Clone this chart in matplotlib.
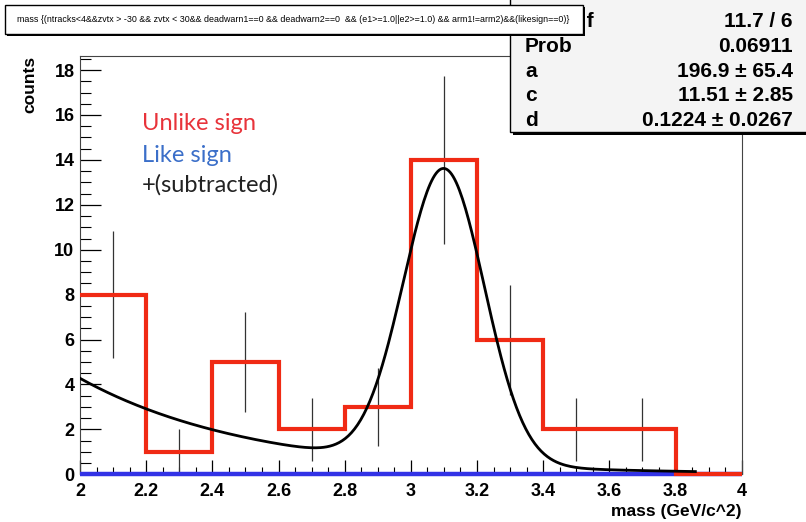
import numpy as np
import matplotlib
matplotlib.use('Agg')
import matplotlib.pyplot as plt
from matplotlib.patches import Rectangle
from matplotlib.ticker import MultipleLocator

# histogram bins (mass, GeV/c^2)
bin_edges = [2.0, 2.2, 2.4, 2.6, 2.8, 3.0, 3.2, 3.4, 3.6, 3.8, 4.0]
unlike_counts = [8, 1, 5, 2, 3, 14, 6, 2, 2, 0]
like_counts = [0, 0, 0, 0, 0, 0, 0, 0, 0, 0]
sub_counts = [8, 1, 5, 2, 3, 14, 6, 2, 2, 0]
sub_errors = [2.83, 1.0, 2.24, 1.41, 1.73, 3.74, 2.45, 1.41, 1.41, 0.0]

# fit result (background exp + gaussian peak)
fit_a = 196.9
fit_slope = 1.915
fit_peak = 13.1
fit_mean = 3.1
fit_d = 0.1224
fit_range = (2.0, 3.86)

stat_labels = ['\u03c7\u00b2 / ndf', 'Prob', 'a', 'c', 'd']
stat_values = ['11.7 / 6', '0.06911', '196.9 \u00b1 65.4', '11.51 \u00b1 2.85', '0.1224 \u00b1 0.0267']

title = ('mass {(ntracks<4&&zvtx > -30 && zvtx < 30&& deadwarn1==0 && deadwarn2==0  '
         '&& (e1>=1.0||e2>=1.0) && arm1!=arm2)&&(likesign==0)}')

W, H = 806, 522
fig = plt.figure(figsize=(W / 100, H / 100), dpi=100)

def px(x, y):
  return x / W, 1 - y / H

ax = fig.add_axes([80 / W, 1 - 474.3 / H, (741.7 - 80) / W, (474.3 - 55.7) / H])

centers = [(bin_edges[i] + bin_edges[i + 1]) / 2 for i in range(len(unlike_counts))]

ax.errorbar(centers, sub_counts, yerr=sub_errors, fmt='none', ecolor='#333333', elinewidth=0.9, zorder=2)
ax.stairs(like_counts, bin_edges, baseline=None, color='#3232e6', lw=3.2, zorder=3, clip_on=False)
ax.stairs(unlike_counts, bin_edges, baseline=None, color='#f02a14', lw=3.0, zorder=4, clip_on=False)

xf = np.linspace(fit_range[0], fit_range[1], 400)
yf = fit_a * np.exp(-fit_slope * xf) + fit_peak * np.exp(-0.5 * ((xf - fit_mean) / fit_d) ** 2)
ax.plot(xf, yf, color='black', lw=2.0, zorder=5)

ax.set_xlim(2, 4)
ax.set_ylim(0, 18.64)
ax.xaxis.set_major_locator(MultipleLocator(0.2))
ax.xaxis.set_minor_locator(MultipleLocator(0.05))
ax.yaxis.set_major_locator(MultipleLocator(2))
ax.yaxis.set_minor_locator(MultipleLocator(0.5))
ax.set_xticks(np.arange(2, 4.01, 0.2))
ax.set_xticklabels(['2', '2.2', '2.4', '2.6', '2.8', '3', '3.2', '3.4', '3.6', '3.8', '4'])

ax.tick_params(axis='y', which='major', direction='in', length=15, width=0.9, pad=4)
ax.tick_params(axis='y', which='minor', direction='in', length=8, width=0.8)
ax.tick_params(axis='x', which='major', direction='in', length=10, width=0.9, pad=6)
ax.tick_params(axis='x', which='minor', direction='in', length=5, width=0.8)
for lab in ax.get_xticklabels() + ax.get_yticklabels():
  lab.set_fontfamily('Liberation Sans')
  lab.set_fontweight('bold')
  lab.set_fontsize(13)
for s in ax.spines.values():
  s.set_linewidth(0.8)
  s.set_color('#444444')

ax.set_ylabel('counts', loc='top', fontfamily='Liberation Sans', fontweight='bold', fontsize=12.5, labelpad=12)
ax.set_xlabel('mass (GeV/c^2)', loc='right', fontfamily='Liberation Sans', fontweight='bold', fontsize=12.5, labelpad=3)

# annotations
fig.text(*px(142, 130), 'Unlike sign', color='#e8333a', fontsize=17, fontfamily='Lato')
fig.text(*px(142, 162), 'Like sign', color='#3b6fc9', fontsize=17, fontfamily='Lato')
fig.text(*px(142, 192), '+(subtracted)', color='#222222', fontsize=17, fontfamily='Lato')

# stats box
fig.patches.append(Rectangle(px(513, 134.5), 300 / W, 150 / H, transform=fig.transFigure,
                             facecolor='black', edgecolor='none', zorder=9))
fig.patches.append(Rectangle(px(510, 131.7), 300 / W, 150 / H, transform=fig.transFigure,
                             facecolor='#f4f4f4', edgecolor='black', lw=1.0, zorder=10))
# the first label sits partly under the title box, only its tail shows
clip_box = Rectangle(px(586, 36), 230 / W, 36 / H, transform=fig.transFigure, visible=False)
fig.patches.append(clip_box)
for i, (lab, val) in enumerate(zip(stat_labels, stat_values)):
  yb = 27 + i * 24.8
  t = fig.text(*px(525, yb), lab, ha='left', va='baseline', fontsize=15, fontweight='bold',
               fontfamily='Liberation Sans', zorder=11)
  if i == 0:
    t.set_clip_path(clip_box)
  fig.text(*px(793, yb), val, ha='right', va='baseline', fontsize=15, fontweight='bold',
           fontfamily='Liberation Sans', zorder=11)

# title box
fig.patches.append(Rectangle(px(7, 35.5), 578 / W, 28 / H, transform=fig.transFigure,
                             facecolor='black', edgecolor='none', zorder=12))
fig.patches.append(Rectangle(px(5, 33.5), 578 / W, 28 / H, transform=fig.transFigure,
                             facecolor='white', edgecolor='black', lw=1.0, zorder=13))
fig.text(*px(17, 22.5), title, ha='left', va='baseline', fontsize=6.4,
         fontfamily='Liberation Sans', zorder=14)

fig.savefig('out.png', dpi=100)
